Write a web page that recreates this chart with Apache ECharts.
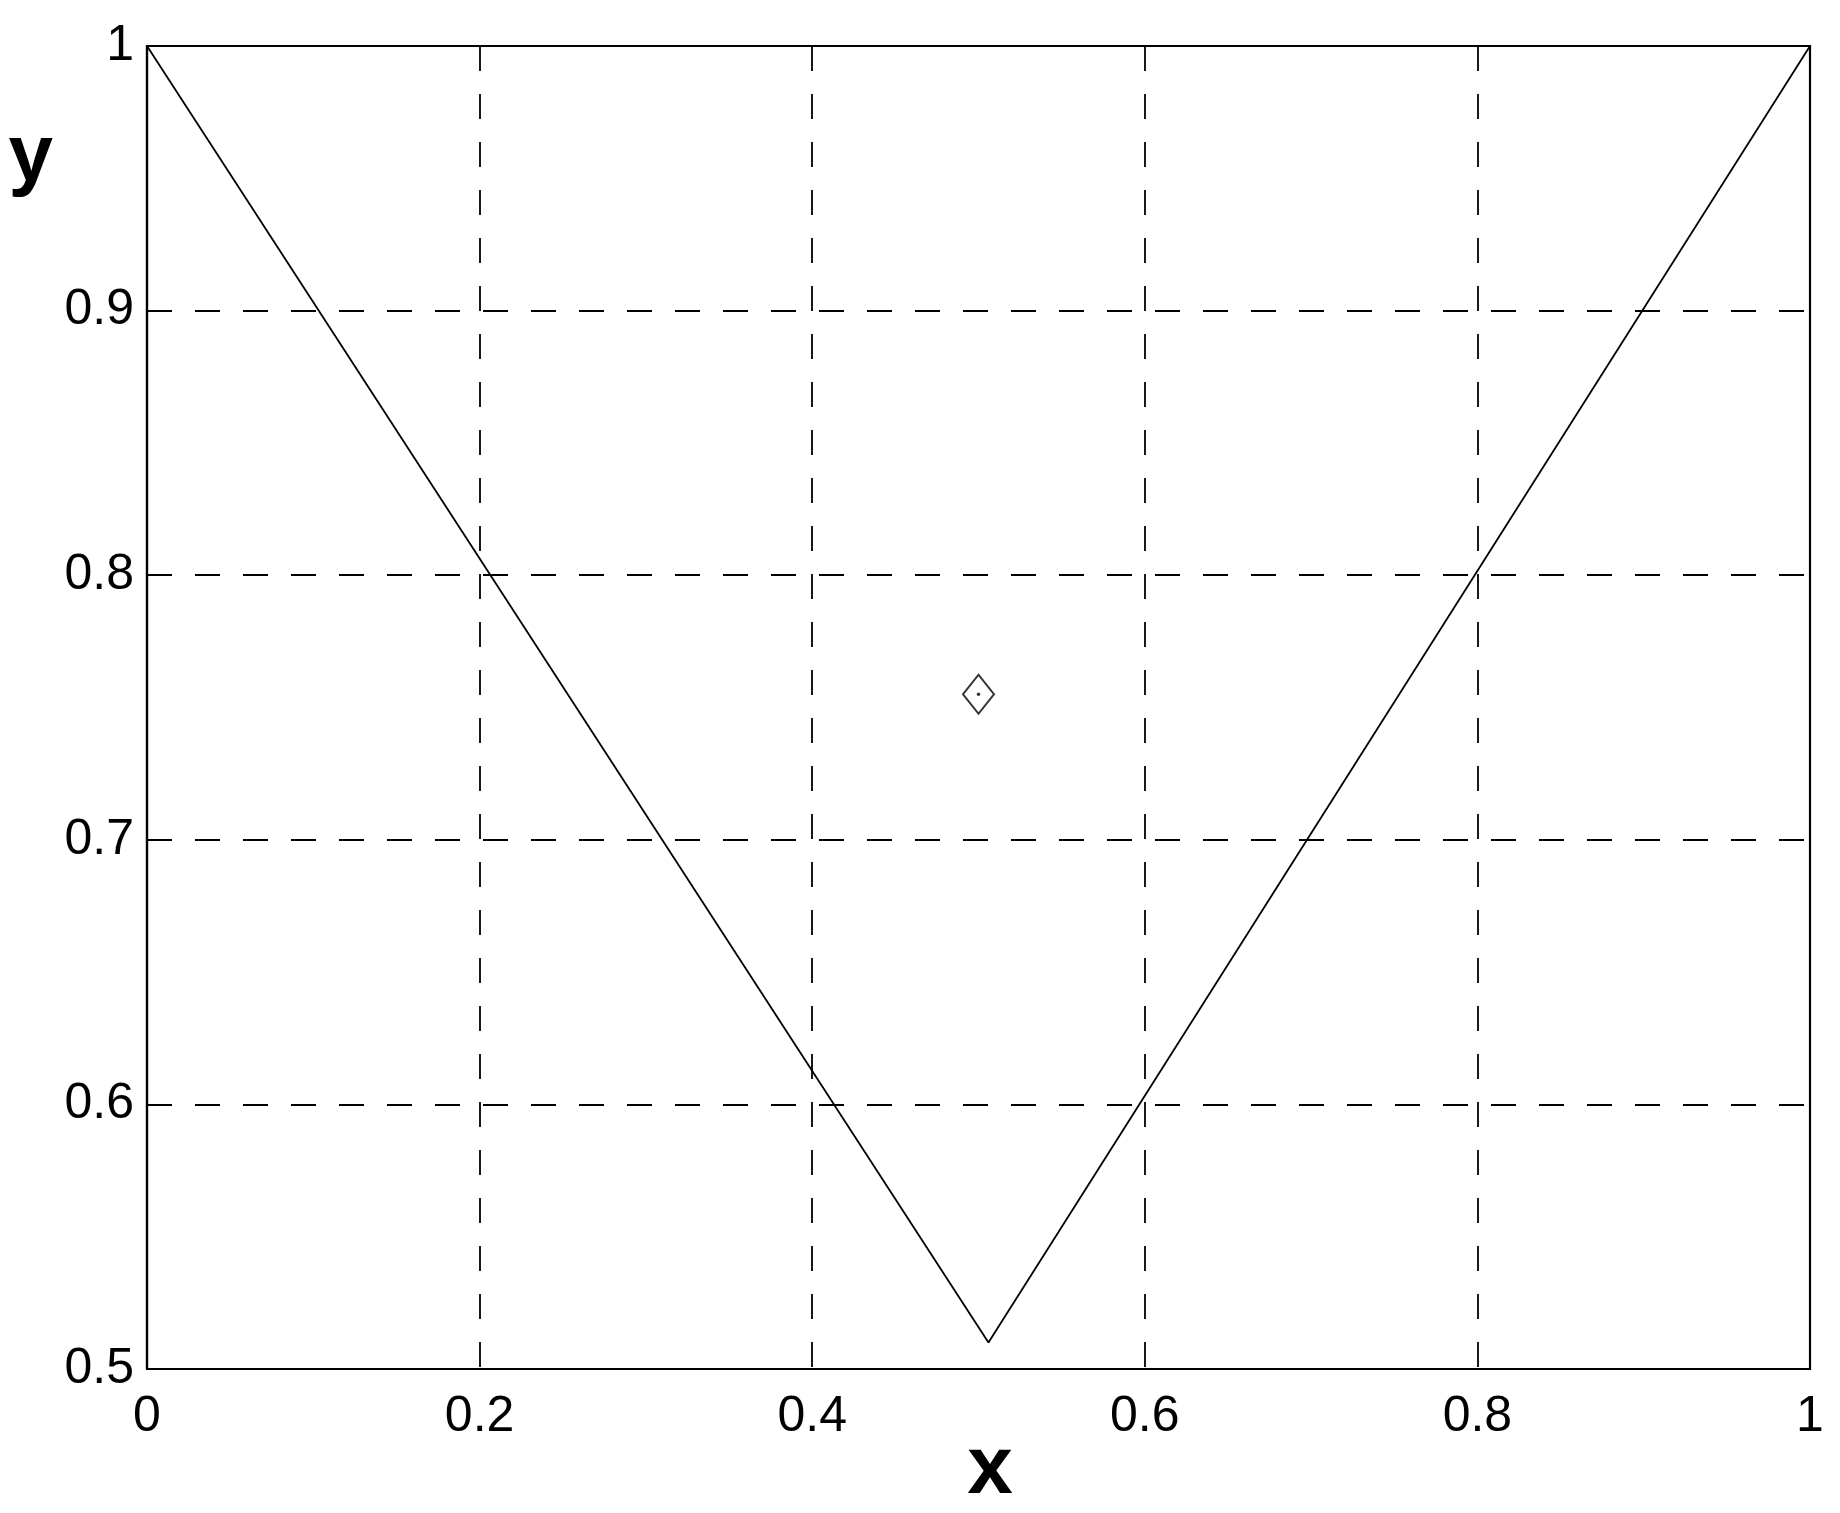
<!DOCTYPE html>
<html>
<head>
<meta charset="utf-8">
<script src="https://cdn.jsdelivr.net/npm/echarts@6/dist/echarts.min.js"></script>
<style>
  html, body { margin: 0; padding: 0; background: #fff; }
  #chart { width: 1840px; height: 1513px; }
</style>
</head>
<body>
<div id="chart"></div>
<script>
// Data
const lineX = [0, 0.506, 1];
const lineY = [1, 0.51, 1];
const markerX = [0.5];
const markerY = [0.755];
const xTickLabels = ['0', '0.2', '0.4', '0.6', '0.8', '1'];
const yTickLabels = ['0.5', '0.6', '0.7', '0.8', '0.9', '1'];
const xAxisTitle = 'x';
const yAxisTitle = 'y';

const FONT = "'Liberation Sans', Arial, Helvetica, sans-serif";

const linePoints = lineX.map((x, i) => [x, lineY[i]]);
const markerPoints = markerX.map((x, i) => [x, markerY[i]]);

const chart = echarts.init(document.getElementById('chart'), null, { renderer: 'canvas' });

const gridDash = { color: '#000', width: 1.8, type: [25, 23] };

chart.setOption({
  animation: false,
  backgroundColor: '#fff',
  grid: {
    left: 147, right: 30, top: 46, bottom: 144,
    containLabel: false,
    outerBoundsMode: 'none',
    show: true,
    borderColor: '#000',
    borderWidth: 2.2,
    backgroundColor: 'transparent'
  },
  xAxis: {
    type: 'value',
    min: 0, max: 1, interval: 0.2,
    name: xAxisTitle,
    nameLocation: 'middle',
    nameGap: 60,
    nameMoveOverlap: false,
    nameTextStyle: { fontFamily: FONT, fontSize: 82, fontWeight: 'bold', color: '#000', padding: [0, 0, 0, 23] },
    axisLine: { show: true, lineStyle: { color: '#000', width: 2.2 } },
    axisTick: { show: false },
    axisLabel: {
      margin: 23,
      fontFamily: FONT, fontSize: 50, color: '#000',
      formatter: (v) => xTickLabels[Math.round(v / 0.2)]
    },
    splitLine: { show: true, lineStyle: gridDash }
  },
  yAxis: {
    type: 'value',
    min: 0.5, max: 1, interval: 0.1,
    name: yAxisTitle,
    nameLocation: 'end',
    nameGap: -112,
    nameMoveOverlap: false,
    nameTextStyle: { fontFamily: FONT, fontSize: 80, fontWeight: 'bold', color: '#000', align: 'right', verticalAlign: 'middle', padding: [0, 94, 0, 0] },
    axisLine: { show: true, lineStyle: { color: '#000', width: 2.2 } },
    axisTick: { show: false },
    axisLabel: {
      margin: 13,
      fontFamily: FONT, fontSize: 50, color: '#000',
      padding: [0, 0, 6, 0],
      formatter: (v) => yTickLabels[Math.round((v - 0.5) / 0.1)]
    },
    splitLine: { show: true, lineStyle: gridDash }
  },
  series: [
    {
      type: 'line',
      data: linePoints,
      symbol: 'none',
      lineStyle: { color: '#000', width: 1.8 },
      z: 3
    },
    {
      type: 'scatter',
      data: markerPoints,
      symbol: 'diamond',
      symbolSize: [31, 39],
      itemStyle: { color: 'rgba(0,0,0,0)', borderColor: '#000', borderWidth: 2 },
      z: 4
    },
    {
      type: 'scatter',
      data: markerPoints,
      symbol: 'circle',
      symbolSize: 3.5,
      itemStyle: { color: '#000' },
      z: 5
    }
  ]
});
</script>
</body>
</html>
